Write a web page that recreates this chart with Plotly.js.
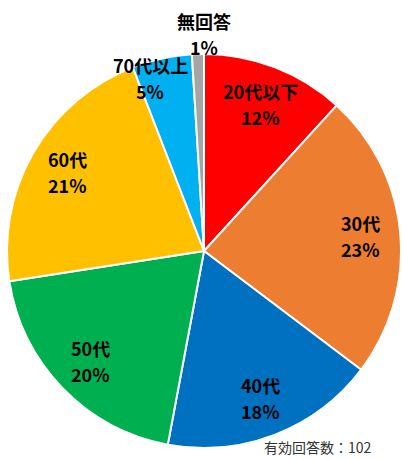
<!DOCTYPE html>
<html><head><meta charset="utf-8">
<script src="https://cdn.plot.ly/plotly-3.0.1.min.js"></script>
<style>html,body{margin:0;padding:0;background:#fff}#chart{width:403px;height:459px}</style>
</head><body><div id="chart"></div>
<script>
const categories = ["20代以下", "30代", "40代", "50代", "60代", "70代以上", "無回答"];
const counts = [12, 24, 18, 20, 22, 5, 1];
const percentLabels = ["12%", "23%", "18%", "20%", "21%", "5%", "1%"];
const totalLabel = "有効回答数：102";
const colors = ["#FF0000", "#ED7D31", "#0070C0", "#00B050", "#FFC000", "#00B0F0", "#A5A5A5"];

const W = 403, H = 459;
const margin = {l: 7, r: 2, t: 54, b: 11, pad: 0};
const plotW = W - margin.l - margin.r, plotH = H - margin.t - margin.b;
const R = Math.min(plotW, plotH) / 2;
const total = counts.reduce((a, b) => a + b, 0);
const font = "'Noto Sans CJK JP', 'Noto Sans', sans-serif";
const labelFont = {family: font, size: 18, color: "#000", weight: "bold"};

const annotations = [];
let cum = 0;
counts.forEach((v, i) => {
  const share = v / total;
  const mid = (cum + share / 2) * 2 * Math.PI;
  cum += share;
  let rf = share < 0.02 ? 1.1 : (share < 0.06 ? 0.9 : 0.8);
  let dx = rf * R * Math.sin(mid), dy = -rf * R * Math.cos(mid);
  if (share < 0.02) dx = 0;
  if (share >= 0.02 && share < 0.06) dx -= 0.08 * R;
  const x = (plotW / 2 + dx) / plotW, y = 1 - (plotH / 2 + dy) / plotH;
  [[categories[i], 13], [percentLabels[i], -13]].forEach(([t, s]) => {
    annotations.push({
      xref: "paper", yref: "paper", x: x, y: y, yshift: s,
      text: t, showarrow: false, xanchor: "center", yanchor: "middle",
      borderpad: 0, font: labelFont
    });
  });
});
annotations.push({
  xref: "paper", yref: "paper", x: 1, y: 0, xanchor: "right", yanchor: "bottom",
  yshift: -10, xshift: -28, borderpad: 0,
  text: totalLabel, showarrow: false,
  font: {family: font, size: 14, color: "#333"}
});

Plotly.newPlot("chart", [{
  type: "pie",
  labels: categories,
  values: counts,
  sort: false,
  direction: "clockwise",
  rotation: 0,
  textinfo: "none",
  hoverinfo: "label+percent",
  marker: {colors: colors, line: {color: "#fff", width: 2}},
  domain: {x: [0, 1], y: [0, 1]}
}], {
  width: W, height: H,
  margin: margin,
  showlegend: false,
  paper_bgcolor: "#fff",
  annotations: annotations
}, {displayModeBar: false, staticPlot: true});
</script></body></html>
